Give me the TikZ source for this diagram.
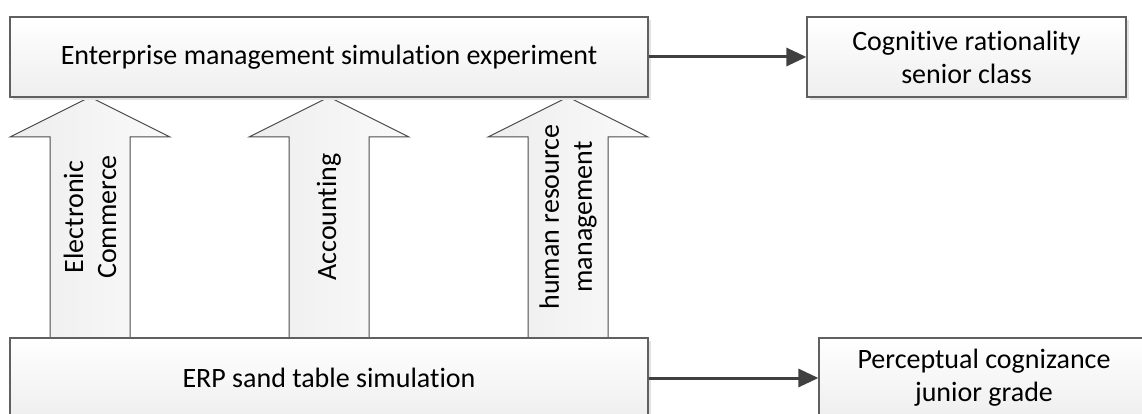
\documentclass[tikz,border=0pt]{standalone}
\usepackage{fontspec}
\setmainfont{Carlito}[Ligatures=NoCommon]
\usetikzlibrary{arrows.meta,shadows}
\begin{document}
\begin{tikzpicture}[x=1pt, y=1pt,
		stage/.style = {draw=gray!75!black, line width=1.2pt, top color=white, bottom color=gray!13,
			minimum height=80pt, inner sep=0pt, align=center,
			font=\fontsize{28}{33}\selectfont,
			general shadow={shadow xshift=3pt, shadow yshift=-3pt, fill=gray!22}},
		blockarr/.style = {draw=black!70, line width=1pt, left color=gray!14, right color=gray!4},
		lab/.style = {rotate=90, align=center, inner sep=0pt, font=\fontsize{28}{33}\selectfont},
		link/.style = {draw=black!75, line width=3pt, -{Triangle[length=20pt,width=18pt]}}]
				\useasboundingbox (0,0) rectangle (1142,-414);

				\foreach \x/\txt in {90/{Electronic\\Commerce}, 329/Accounting, 568/{human resource\\management}}
				{
					\draw[blockarr] (\x-40,-338) -- (\x-40,-137) -- (\x-80,-137) -- (\x,-97)
						-- (\x+80,-137) -- (\x+40,-137) -- (\x+40,-338) -- cycle;
					\node[lab] at (\x,-217) {\txt};
				}

				\node[stage, minimum width=638pt] (top) at (329,-57) {Enterprise management simulation experiment};
				\node[stage, minimum width=319pt] (senior) at (966.5,-57) {Cognitive rationality\\senior class};
				\node[stage, minimum width=638pt] (erp) at (329,-378) {ERP sand table simulation};
				\node[stage, minimum width=330pt] (junior) at (984,-378) {Perceptual cognizance\\junior grade};

				\draw[link] (top) to (senior);
				\draw[link] (erp) to (junior);
			\end{tikzpicture}
\end{document}
